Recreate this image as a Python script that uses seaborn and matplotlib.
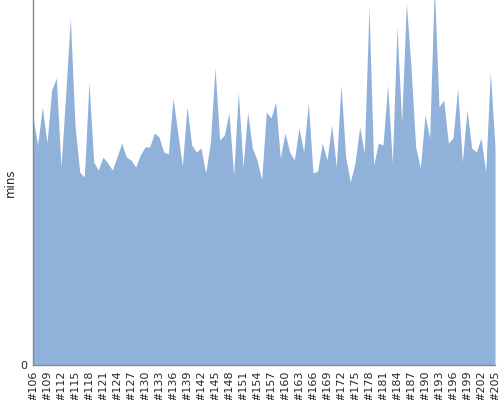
import matplotlib
matplotlib.use("Agg")
import matplotlib.pyplot as plt
import seaborn as sns
import pandas as pd
import numpy as np

categories = ["#%d" % n for n in range(106, 206)]
mins = [247, 220, 258, 222, 275, 287, 198, 270, 347, 240,
        193, 188, 283, 203, 195, 208, 202, 195, 208, 222,
        208, 205, 198, 210, 218, 218, 232, 228, 213, 211,
        267, 233, 199, 258, 220, 213, 217, 192, 222, 297,
        225, 230, 252, 190, 273, 198, 253, 217, 205, 185,
        253, 247, 263, 207, 232, 213, 205, 237, 213, 262,
        192, 194, 222, 205, 240, 198, 280, 208, 183, 202,
        238, 212, 358, 200, 222, 220, 280, 202, 338, 242,
        362, 298, 218, 197, 250, 227, 380, 258, 265, 222,
        227, 277, 203, 255, 217, 213, 227, 193, 293, 218]
tick_labels = categories[::3]

df = pd.DataFrame({"pos": np.arange(len(categories)), "build": categories, "mins": mins})

sns.set_style("white")
plt.rcParams['font.family'] = ['DejaVu Sans']

fig = plt.figure(figsize=(5, 4), dpi=100)
ax = fig.add_axes([0.066, 0.0875, 0.924, 0.9125])
color = "#8fb1da"
sns.lineplot(data=df, x="pos", y="mins", ax=ax, color=color, linewidth=0)
ax.fill_between(df["pos"], 0, df["mins"], color=color, linewidth=0)

ax.set_xlim(0, len(categories) - 1)
ax.set_ylim(0, 365)
ax.set_xticks(df["pos"][::3])
ax.set_xticklabels(tick_labels, rotation=90, fontsize=8)
ax.set_yticks([0])
ax.set_yticklabels(["0"], fontsize=8)
ax.tick_params(axis="x", length=0, pad=4)
ax.tick_params(axis="y", length=0, pad=4)
ax.set_xlabel("")
ax.set_ylabel("mins", fontsize=8.5)
ax.yaxis.set_label_coords(-0.035, 0.5)
for s in ["top", "right"]:
    ax.spines[s].set_visible(False)
for s in ["left", "bottom"]:
    ax.spines[s].set_color("#888888")
    ax.spines[s].set_linewidth(1)

fig.savefig("out.png", dpi=100)
